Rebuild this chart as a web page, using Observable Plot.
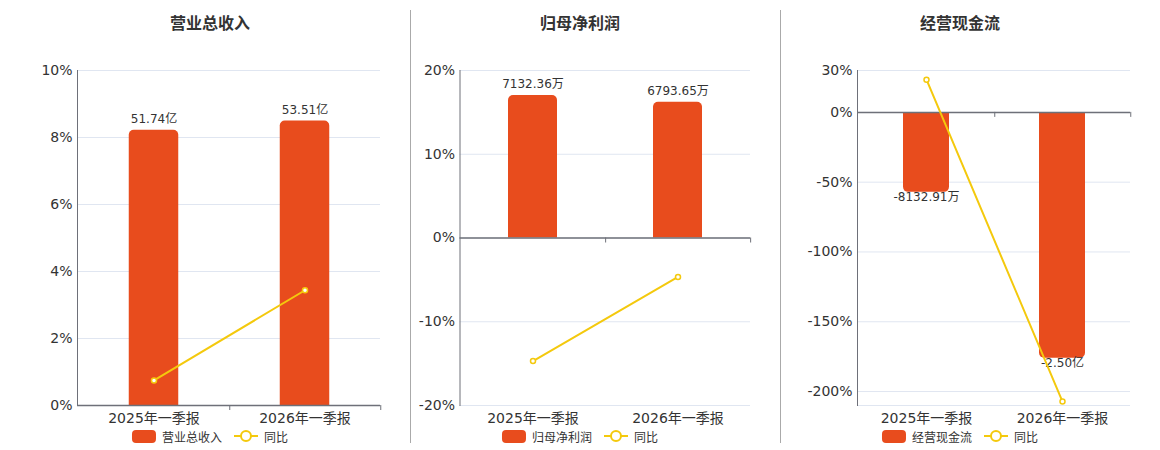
<!DOCTYPE html>
<html><head><meta charset="utf-8">
<script src="https://cdn.jsdelivr.net/npm/d3@7"></script>
<script src="https://cdn.jsdelivr.net/npm/@observablehq/plot@0.6"></script>
<style>
body{margin:0;background:#fff;font-family:"DejaVu Sans","Noto Sans CJK SC",sans-serif;}
#root{position:relative;width:1160px;height:450px;overflow:hidden;background:#fff}
.title{position:absolute;top:12px;transform:translateX(-50%);font:bold 16px "Noto Sans CJK SC",sans-serif;color:#333;white-space:nowrap;line-height:20px}
.divider{position:absolute;top:10px;height:433px;width:1px;background:#aaa}
.plot{position:absolute;top:45px}
.legend{position:absolute;top:428px;height:16px;transform:translateX(-50%);display:flex;align-items:center;font:12px "Noto Sans CJK SC",sans-serif;color:#333;white-space:nowrap}
.legend .sw{width:24px;height:13px;border-radius:4px;background:#e84c1d;margin-right:6px}
.legend svg{margin-left:12px;margin-right:6px}
</style></head>
<body><div id="root"></div>
<script>
// ---- data ----
const periods = ["2025年一季报", "2026年一季报"];
const titles = ["营业总收入", "归母净利润", "经营现金流"];

const revenueValues = [51.74, 53.51];          // 亿
const revenueLabels = ["51.74亿", "53.51亿"];
const revenueYoY = [0.75, 3.44];                // %
const revenueTicks = [0, 2, 4, 6, 8, 10];

const profitValues = [7132.36, 6793.65];       // 万
const profitLabels = ["7132.36万", "6793.65万"];
const profitYoY = [-14.7, -4.65];
const profitTicks = [-20, -10, 0, 10, 20];

const cashValues = [-8132.91, -25000];          // 万
const cashLabels = ["-8132.91万", "-2.50亿"];
const cashYoY = [23.4, -207.2];
const cashTicks = [30, 0, -50, -100, -150, -200];

const BAR = "#e84c1d", LINE = "#f4c90d", AXIS = "#6e7079", GRID = "#e0e6f1";
const root = document.getElementById("root");

function panel(cfg) {
  const barScale = d3.scaleLinear().domain(cfg.barDomain).range(cfg.barRange);
  const rows = periods.map((p, i) => ({period: p, v: barScale(cfg.values[i]), label: cfg.labels[i], yoy: cfg.yoy[i]}));
  const bw = (cfg.width - cfg.mL - cfg.mR) / 2;
  const neg = cfg.values[0] < 0;
  const corner = neg ? {ry2: 5} : {ry1: 5};
  const chart = Plot.plot({
    width: cfg.width, height: 383,
    marginLeft: cfg.mL, marginRight: cfg.mR, marginTop: 25, marginBottom: 23,
    style: {fontFamily: '"DejaVu Sans","Noto Sans CJK SC",sans-serif', fontSize: "14px", color: "#333", background: "transparent", overflow: "visible"},
    x: {type: "band", domain: periods, padding: 0, label: null},
    y: {domain: cfg.yDomain, label: null},
    marks: [
      Plot.gridY(cfg.ticks, {stroke: GRID, strokeOpacity: 1}),
      Plot.ruleY([cfg.yDomain[0]], {stroke: GRID, strokeOpacity: 1}),
      Plot.axisY(cfg.ticks, {tickSize: 0, tickPadding: 5, tickFormat: d => d + "%", fontSize: 14, fill: "#333"}),
      Plot.axisX({tickSize: 0, tickPadding: 8, fontSize: 14, fill: "#333"}),
      Plot.frame({anchor: "left", stroke: AXIS}),
      Plot.barY(rows, {x: "period", y: "v", fill: BAR, insetLeft: cfg.inset, insetRight: cfg.inset, ...corner}),
      Plot.ruleY([0], {stroke: AXIS, strokeWidth: 1.5}),
      Plot.ruleX(periods, {x: d => d, y1: 0, y2: 0, dx: bw / 2, insetBottom: -5, stroke: AXIS}),
      Plot.text(rows, {x: "period", y: "v", text: "label", dy: neg ? 5 : -11, fontSize: 12, fill: "#333"}),
      Plot.line(rows, {x: "period", y: "yoy", stroke: LINE, strokeWidth: 2}),
      Plot.dot(rows, {x: "period", y: "yoy", r: 2.5, fill: "#fff", stroke: LINE, strokeWidth: 1.5})
    ]
  });
  chart.classList.add("plot");
  chart.style.left = cfg.left + "px";
  root.appendChild(chart);

  const t = document.createElement("div");
  t.className = "title"; t.textContent = cfg.title; t.style.left = cfg.center + "px";
  root.appendChild(t);

  const lg = document.createElement("div");
  lg.className = "legend"; lg.style.left = cfg.center + "px";
  lg.innerHTML = `<div class="sw"></div><span>${cfg.title}</span>` +
    `<svg width="24" height="14"><line x1="0" y1="7" x2="24" y2="7" stroke="${LINE}" stroke-width="2"/><circle cx="12" cy="7" r="5" fill="#fff" stroke="${LINE}" stroke-width="2"/></svg><span>同比</span>`;
  root.appendChild(lg);
}

panel({title: titles[0], left: 0, width: 410, mL: 77, mR: 30, center: 210, inset: 50.75,
  yDomain: [0, 10], ticks: revenueTicks, barDomain: [0, 63], barRange: [0, 10],
  values: revenueValues, labels: revenueLabels, yoy: revenueYoY});
panel({title: titles[1], left: 410, width: 370, mL: 49.5, mR: 30, center: 580, inset: 48,
  yDomain: [-20, 20], ticks: profitTicks, barDomain: [0, 8380], barRange: [0, 20],
  values: profitValues, labels: profitLabels, yoy: profitYoY});
panel({title: titles[2], left: 780, width: 380, mL: 77, mR: 30, center: 960, inset: 45,
  yDomain: [-210, 30], ticks: cashTicks, barDomain: [0, -29800], barRange: [0, -210],
  values: cashValues, labels: cashLabels, yoy: cashYoY});

for (const x of [410, 780]) {
  const d = document.createElement("div");
  d.className = "divider"; d.style.left = x + "px";
  root.appendChild(d);
}
</script></body></html>
